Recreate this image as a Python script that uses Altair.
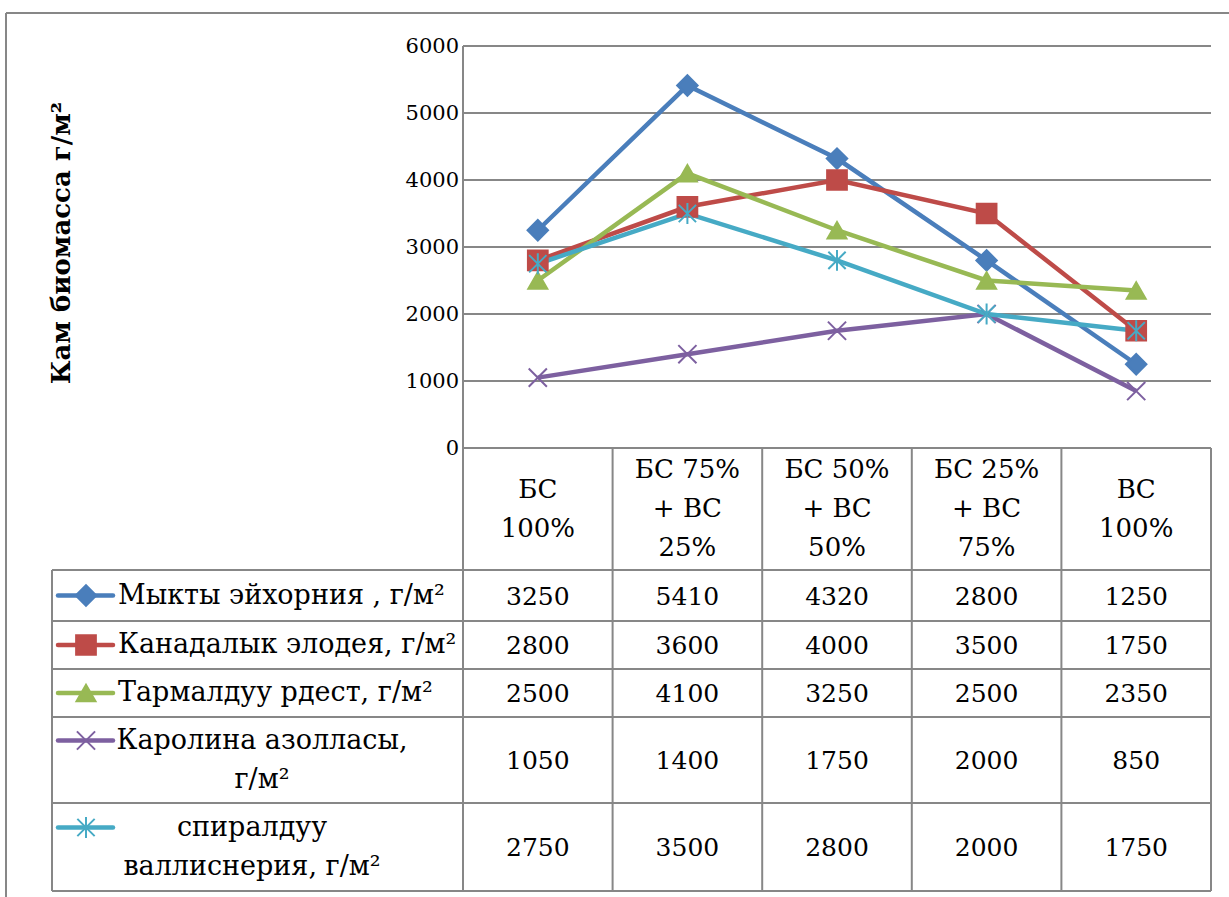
import altair as alt
import pandas as pd

# ---- data -------------------------------------------------------------
categories = ["БС\n100%", "БС 75%\n+ ВС\n25%", "БС 50%\n+ ВС\n50%", "БС 25%\n+ ВС\n75%", "ВС\n100%"]
series_names = [
    "Мыкты эйхорния , г/м²",
    "Канадалык элодея, г/м²",
    "Тармалдуу рдест, г/м²",
    "Каролина азолласы,\nг/м²",
    "спиралдуу\nваллиснерия, г/м²",
]
eichhornia = [3250, 5410, 4320, 2800, 1250]
elodea = [2800, 3600, 4000, 3500, 1750]
potamogeton = [2500, 4100, 3250, 2500, 2350]
azolla = [1050, 1400, 1750, 2000, 850]
vallisneria = [2750, 3500, 2800, 2000, 1750]
y_ticks = [0, 1000, 2000, 3000, 4000, 5000, 6000]
y_title = "Кам биомасса г/м²"

series_values = [eichhornia, elodea, potamogeton, azolla, vallisneria]

# ---- styling / layout -------------------------------------------------
colors = ["#4A7EBB", "#BE4B48", "#98B954", "#7D60A0", "#46AAC5"]
shapes = [
    "diamond",
    "square",
    "triangle-up",
    "M-1,-1L1,1M-1,1L1,-1",
    "M-1,-1L1,1M-1,1L1,-1M0,-1.2L0,1.2",
]
sizes = [420, 300, 400, 260, 300]

FONT = "DejaVu Serif"
W, H = 1229, 897
PLOT_L, PLOT_R, PLOT_T, PLOT_B = 463, 1211, 46, 448
TABLE_L = 52
ROW_EDGES = [448, 570, 621, 669, 717, 803, 891]
LINE_H = 39
GRID = "#878787"

col_step = (PLOT_R - PLOT_L) / len(categories)


def first_line_y(text, mid):
    # y of the first line so that a multi-line block is centred on mid
    n = text.count("\n") + 1
    return mid - (n - 1) * LINE_H / 2


x_scale = alt.Scale(type="point", domain=categories, range=[PLOT_L, PLOT_R], padding=0.5)
y_scale = alt.Scale(domain=[0, 6000], range=[PLOT_B, PLOT_T], nice=False, zero=False)
color_scale = alt.Scale(domain=series_names, range=colors)
shape_scale = alt.Scale(domain=series_names, range=shapes)
size_scale = alt.Scale(domain=series_names, range=sizes)

# long table of values
rows = []
for i, (name, vals) in enumerate(zip(series_names, series_values)):
    row_mid = (ROW_EDGES[i + 1] + ROW_EDGES[i + 2]) / 2
    for cat, v in zip(categories, vals):
        rows.append({"series": name, "cat": cat, "value": v, "row_y": row_mid})
long_df = pd.DataFrame(rows)

# ---- frame and table borders -------------------------------------------
segs = []
segs.append({"x": 6, "x2": W, "y": 13, "y2": 13})
segs.append({"x": 6, "x2": 6, "y": 13, "y2": H})
for ry in ROW_EDGES[1:]:
    segs.append({"x": TABLE_L, "x2": PLOT_R, "y": ry, "y2": ry})
segs.append({"x": TABLE_L, "x2": TABLE_L, "y": ROW_EDGES[1], "y2": ROW_EDGES[-1]})
segs.append({"x": PLOT_L, "x2": PLOT_L, "y": PLOT_T, "y2": ROW_EDGES[-1]})
for k in range(1, len(categories) + 1):
    cx = PLOT_L + k * col_step
    segs.append({"x": cx, "x2": cx, "y": PLOT_B, "y2": ROW_EDGES[-1]})
seg_df = pd.DataFrame(segs)

borders = alt.Chart(seg_df).mark_rule(color=GRID, strokeWidth=2).encode(
    x=alt.X("x:Q", scale=None, axis=None),
    x2="x2:Q",
    y=alt.Y("y:Q", scale=None, axis=None),
    y2="y2:Q",
)

# ---- gridlines and tick labels -----------------------------------------
tick_df = pd.DataFrame({"v": y_ticks})
grid = alt.Chart(tick_df).mark_rule(color=GRID, strokeWidth=2).encode(
    y=alt.Y("v:Q", scale=y_scale, axis=None),
    x=alt.value(PLOT_L),
    x2=alt.value(PLOT_R),
)
tick_labels = alt.Chart(tick_df).mark_text(
    align="right", baseline="middle", font=FONT, fontSize=21, color="#000000", dy=1
).encode(
    y=alt.Y("v:Q", scale=y_scale, axis=None),
    x=alt.value(PLOT_L - 4),
    text="v:Q",
)

ytitle = alt.Chart(pd.DataFrame({"t": [y_title]})).mark_text(
    angle=270, align="center", baseline="middle", font=FONT, fontSize=26,
    fontWeight="bold", color="#000000",
).encode(x=alt.value(62), y=alt.value(243), text="t:N")

# ---- series lines and markers ------------------------------------------
lines = alt.Chart(long_df).mark_line(strokeWidth=4.5).encode(
    x=alt.X("cat:N", scale=x_scale, axis=None, sort=None),
    y=alt.Y("value:Q", scale=y_scale, axis=None),
    color=alt.Color("series:N", scale=color_scale, legend=None),
    detail="series:N",
)
points = alt.Chart(long_df).mark_point(filled=True, strokeWidth=2, opacity=1).encode(
    x=alt.X("cat:N", scale=x_scale, axis=None, sort=None),
    y=alt.Y("value:Q", scale=y_scale, axis=None),
    color=alt.Color("series:N", scale=color_scale, legend=None),
    stroke=alt.Stroke("series:N", scale=color_scale, legend=None),
    shape=alt.Shape("series:N", scale=shape_scale, legend=None),
    size=alt.Size("series:N", scale=size_scale, legend=None),
)

# ---- data table --------------------------------------------------------
header_mid = (ROW_EDGES[0] + ROW_EDGES[1]) / 2
header_df = pd.DataFrame({
    "cat": categories,
    "hy": [first_line_y(c, header_mid) for c in categories],
})
header = alt.Chart(header_df).mark_text(
    align="center", baseline="middle", font=FONT, fontSize=26, lineBreak="\n",
    lineHeight=LINE_H, color="#000000",
).encode(
    x=alt.X("cat:N", scale=x_scale, axis=None, sort=None),
    y=alt.Y("hy:Q", scale=None, axis=None),
    text="cat:N",
)

cells = alt.Chart(long_df).mark_text(
    align="center", baseline="middle", font=FONT, fontSize=25, color="#000000", dy=1,
).encode(
    x=alt.X("cat:N", scale=x_scale, axis=None, sort=None),
    y=alt.Y("row_y:Q", scale=None, axis=None),
    text="value:Q",
)

# legend keys inside the first column
key_rows = []
for i, name in enumerate(series_names):
    mid = (ROW_EDGES[i + 1] + ROW_EDGES[i + 2]) / 2
    key_rows.append({
        "series": name, "y": first_line_y(name, mid), "x0": 58, "x1": 113,
        "xm": 86, "multi": "\n" in name,
    })
key_df = pd.DataFrame(key_rows)

key_lines = alt.Chart(key_df).mark_rule(strokeWidth=4.5, strokeCap="round").encode(
    x=alt.X("x0:Q", scale=None, axis=None),
    x2="x1:Q",
    y=alt.Y("y:Q", scale=None, axis=None),
    color=alt.Color("series:N", scale=color_scale, legend=None),
)
key_points = alt.Chart(key_df).mark_point(filled=True, strokeWidth=2, opacity=1).encode(
    x=alt.X("xm:Q", scale=None, axis=None),
    y=alt.Y("y:Q", scale=None, axis=None),
    color=alt.Color("series:N", scale=color_scale, legend=None),
    stroke=alt.Stroke("series:N", scale=color_scale, legend=None),
    shape=alt.Shape("series:N", scale=shape_scale, legend=None),
    size=alt.Size("series:N", scale=size_scale, legend=None),
)

single_df = key_df[~key_df["multi"]]
multi_df = key_df[key_df["multi"]].copy()
multi_df["cx"] = [262, 252]

key_text_single = alt.Chart(single_df).mark_text(
    align="left", baseline="middle", font=FONT, fontSize=27, color="#000000",
).encode(
    x=alt.value(118),
    y=alt.Y("y:Q", scale=None, axis=None),
    text="series:N",
)
key_text_multi = alt.Chart(multi_df).mark_text(
    align="center", baseline="middle", font=FONT, fontSize=27, color="#000000",
    lineBreak="\n", lineHeight=LINE_H,
).encode(
    x=alt.X("cx:Q", scale=None, axis=None),
    y=alt.Y("y:Q", scale=None, axis=None),
    text="series:N",
)

chart = alt.layer(
    borders, grid, tick_labels, ytitle, lines, points, header, cells,
    key_lines, key_points, key_text_single, key_text_multi,
).resolve_scale(
    x="independent", y="independent", size="independent", shape="independent",
).properties(
    width=W, height=H, padding=0, autosize="none", background="#ffffff",
).configure_view(stroke=None)

chart.save("out.html", embed_options={"renderer": "svg", "actions": False})
